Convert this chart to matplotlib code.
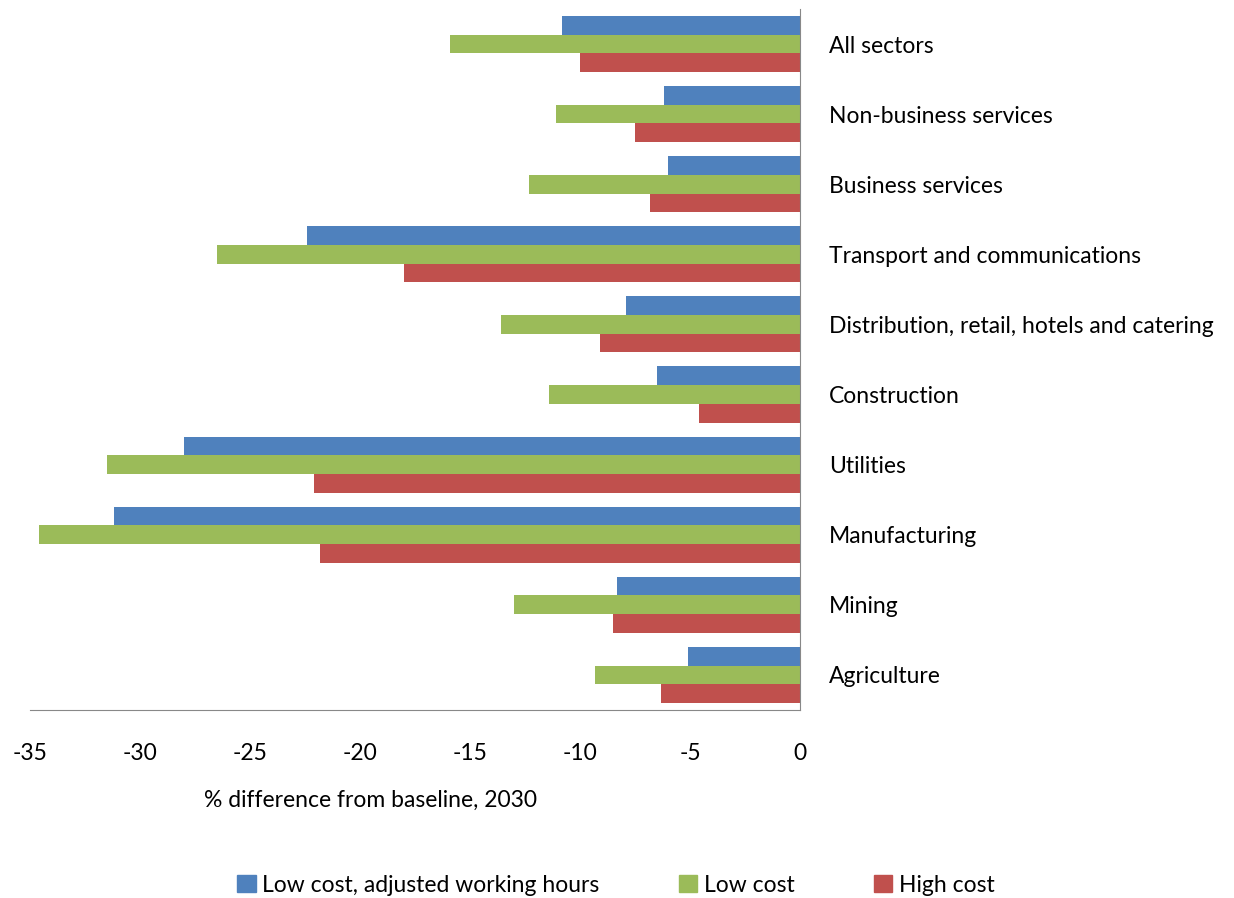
import numpy as np
import matplotlib.pyplot as plt
from matplotlib.patches import Patch

plt.rcParams['font.family'] = ['Lato', 'DejaVu Sans']
plt.rcParams['axes.unicode_minus'] = False

sectors = ['Agriculture', 'Mining', 'Manufacturing', 'Utilities', 'Construction',
           'Distribution, retail, hotels and catering', 'Transport and communications',
           'Business services', 'Non-business services', 'All sectors']
low_adj = [-5.1, -8.3, -31.2, -28.0, -6.5, -7.9, -22.4, -6.0, -6.2, -10.8]
low = [-9.3, -13.0, -34.6, -31.5, -11.4, -13.6, -26.5, -12.3, -11.1, -15.9]
high = [-6.3, -8.5, -21.8, -22.1, -4.6, -9.1, -18.0, -6.8, -7.5, -10.0]

names = ['Low cost, adjusted working hours', 'Low cost', 'High cost']
colors = ['#4F81BD', '#9BBB59', '#C0504D']

fig = plt.figure(figsize=(12.34, 8.98), dpi=100)
ax = fig.add_axes([0.0243, 0.2094, 0.624, 0.7806])

y = np.arange(len(sectors))
h = 0.267
for i, vals in enumerate([low_adj, low, high]):
    ax.barh(y + (1 - i) * h, vals, height=h, color=colors[i], edgecolor='none')

ax.set_xlim(-35, 0)
ax.set_ylim(-0.5, 9.5)
ax.set_xticks(range(-35, 1, 5))
ax.set_yticks(y)
ax.set_yticklabels(sectors)
ax.yaxis.tick_right()
ax.tick_params(axis='y', length=0, pad=21, labelsize=16.5, colors='black')
ax.tick_params(axis='x', length=0, pad=24, labelsize=16.5)

for s in ['top', 'left']:
    ax.spines[s].set_visible(False)
for s in ['bottom', 'right']:
    ax.spines[s].set_color('#888888')

fig.text(370 / 1234, 1 - 800 / 898, '% difference from baseline, 2030',
         ha='center', va='center', fontsize=16.5)

handles = [Patch(color=c) for c in colors]
fig.legend(handles, names, loc='center', bbox_to_anchor=(616 / 1234, 1 - 885 / 898),
           ncol=3, frameon=False, fontsize=16.5, columnspacing=3.45,
           handlelength=0.8, handleheight=0.8, handletextpad=0.3)

fig.savefig('out.png', dpi=100)
